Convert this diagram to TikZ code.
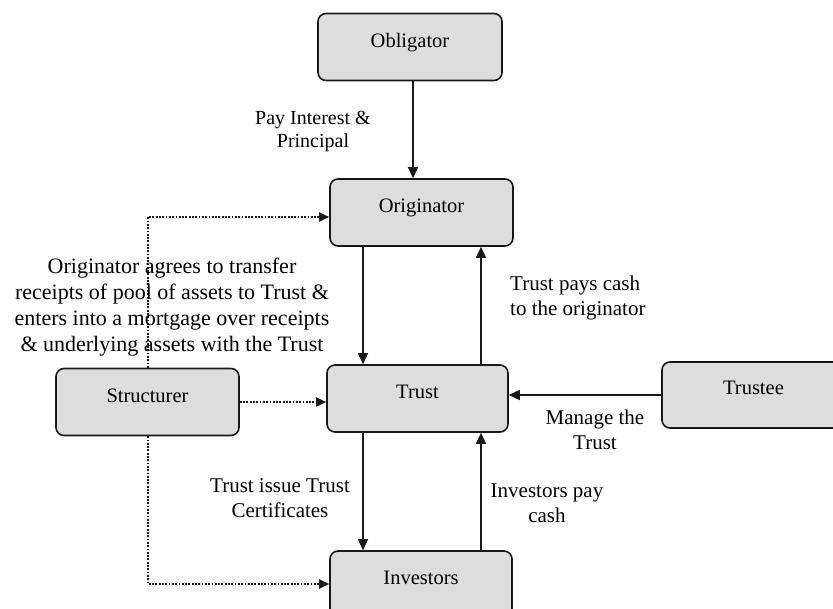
\documentclass[tikz,border=0pt]{standalone}
\usepackage{fontspec}
\setmainfont{Liberation Serif}
\usetikzlibrary{arrows.meta}
\definecolor{boxfill}{RGB}{221,221,221}
\definecolor{linecol}{RGB}{25,25,25}
\begin{document}
\begin{tikzpicture}[x=1pt,y=-1pt,
  box/.style={draw=linecol, line width=1.6pt, fill=boxfill, rounded corners=8pt,
    inner xsep=0pt, inner ysep=0pt, text height=34pt, text depth=33pt,
    align=center, font=\fontsize{20.5}{24}\selectfont},
  lbl/.style={inner sep=0pt, align=center, font=\fontsize{21}{25}\selectfont},
  arr/.style={draw=linecol, line width=1.5pt, -{Triangle[length=11pt,width=10pt]}},
  dotarr/.style={draw=linecol, line width=1.8pt, dash pattern=on 1.8pt off 1.5pt, -{Triangle[length=10pt,width=9pt]}}
]
\useasboundingbox (0,0) rectangle (833,609);
\clip (0,0) rectangle (833,609);

% boxes
\node[box, minimum width=184pt] (obl) at (410,47) {Obligator};
\node[box, minimum width=183pt] (orig) at (421.5,212.5) {Originator};
\node[box, minimum width=181pt] (trust) at (417.5,398.5) {Trust};
\node[box, minimum width=183pt] (struct) at (147.5,402) {Structurer};
\node[box, minimum width=183pt, text height=33pt, text depth=33pt] (trustee) at (753.5,395) {Trustee};
\node[box, minimum width=182pt, text height=33pt] (inv) at (421,584) {Investors};

% helper coordinates
\coordinate (dx) at (363,0);
\coordinate (ux) at (481,0);
\coordinate (vx) at (148,0);
\coordinate (oy) at (0,217);

% solid connectors
\draw[arr] ([xshift=3pt]obl.south) -- ([xshift=3pt]obl.south |- orig.north);
\draw[arr] (orig.south -| dx) -- (trust.north -| dx);
\draw[arr] (trust.north -| ux) -- (orig.south -| ux);
\draw[arr] (trust.south -| dx) -- (inv.north -| dx);
\draw[arr] (inv.north -| ux) -- (trust.south -| ux);
\draw[arr] (trustee.west) -- (trustee.west -| trust.east);

% dotted connectors
\draw[dotarr] (struct.east) -- (struct.east -| trust.west);
\draw[dotarr] (struct.north -| vx) -- (vx |- oy) -- (oy -| orig.west);
\draw[dotarr] (struct.south -| vx) |- (inv.west);

% labels
\node[lbl, font=\fontsize{20}{23}\selectfont] (l1) at (313,131) {Pay Interest \&\\Principal};
\node[lbl, font=\fontsize{22}{26}\selectfont] (l2) at (172,307) {Originator agrees to transfer\\receipts of pool of assets to Trust \&\\enters into a mortgage over receipts\\\& underlying assets with the Trust};
\node[lbl, align=left, anchor=west] (l3) at (510,298) {Trust pays cash\\to the originator};
\node[lbl] (l4) at (595,430) {Manage the\\Trust};
\node[lbl] (l5) at (280,498) {Trust issue Trust\\Certificates};
\node[lbl] (l6) at (547,503) {Investors pay\\cash};
\end{tikzpicture}
\end{document}
